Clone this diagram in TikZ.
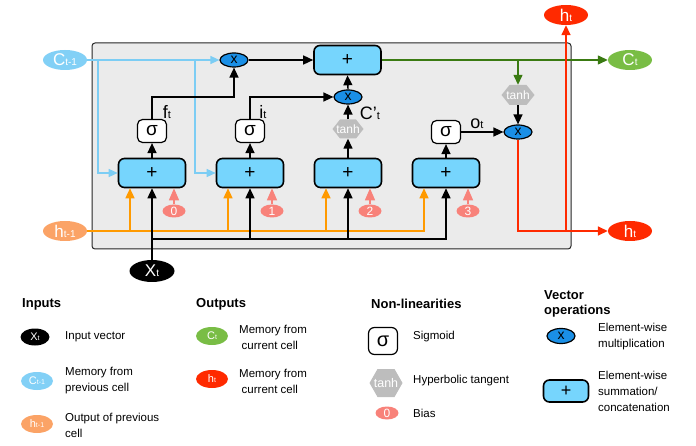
\documentclass[tikz,border=0pt]{standalone}
\usepackage{fontspec}
\setmainfont{Liberation Sans}
\usetikzlibrary{arrows.meta,shapes.geometric}
\definecolor{cprevcol}{HTML}{82D0F6}
\definecolor{plusfill}{HTML}{76D5FD}
\definecolor{multfill}{HTML}{1A8FE6}
\definecolor{ctcol}{HTML}{79BD45}
\definecolor{gline}{HTML}{3A7A12}
\definecolor{htcol}{HTML}{FF2A00}
\definecolor{hprevcol}{HTML}{FBA366}
\definecolor{oline}{HTML}{FF9A00}
\definecolor{biascol}{HTML}{F8827A}
\definecolor{tanhgray}{HTML}{BDBDBD}
\definecolor{cellgray}{HTML}{EBEBEB}
\definecolor{bline}{HTML}{7CCDF4}
\newcommand{\lb}[4]{{\fontsize{#1}{#1}\selectfont #2}{\fontsize{#3}{#3}\selectfont #4}}
% name, x, y, half width, half height, pointer depth, font size, text
\newcommand{\hexnode}[8]{%
  \fill[tanhgray] (#2-#4,#3) -- (#2-#4+#6,#3-#5) -- (#2+#4-#6,#3-#5) -- (#2+#4,#3) -- (#2+#4-#6,#3+#5) -- (#2-#4+#6,#3+#5) -- cycle;
  \node[inner sep=0pt, text=white, minimum width=2*#4, minimum height=2*#5, font=\fontsize{#7}{#7}\selectfont] (#1) at (#2,#3) {#8};}
\tikzset{
  mainell/.style={ellipse, inner sep=0pt, text=white, minimum width=44pt, minimum height=20pt},
  legell/.style={ellipse, inner sep=0pt, text=white, minimum width=32pt, minimum height=18pt},
  plusbox/.style={draw=black, line width=1.6pt, fill=plusfill, rounded corners=6pt, minimum width=67pt, minimum height=29pt, inner sep=0pt, font=\fontsize{19}{19}\selectfont},
  mult/.style={ellipse, draw=black, line width=1.2pt, fill=multfill, minimum width=28pt, minimum height=14pt, inner sep=0pt, font=\fontsize{14}{14}\selectfont},
  sig/.style={draw=black, line width=1.2pt, fill=white, rounded corners=5pt, minimum width=29pt, minimum height=23pt, inner sep=0pt, font=\fontsize{19}{19}\selectfont},
  biasn/.style={ellipse, fill=biascol, text=white, minimum width=23pt, minimum height=13pt, inner sep=0pt, font=\fontsize{12}{12}\selectfont},
  arr/.style={line width=1.4pt, draw=black, -{Triangle[length=10pt,width=9pt]}},
  barr/.style={line width=1.3pt, draw=bline, -{Triangle[length=9pt,width=8pt,fill=bline]}},
  oarr/.style={line width=1.4pt, draw=oline, -{Triangle[length=10pt,width=9pt,fill=oline]}},
  garr/.style={line width=1.3pt, draw=gline, -{Triangle[length=10pt,width=9pt,fill=gline]}},
  rarr/.style={line width=1.5pt, draw=htcol, -{Triangle[length=10pt,width=9pt,fill=htcol]}},
  biasarr/.style={line width=1.4pt, draw=biascol, -{Triangle[length=12pt,width=10pt,fill=biascol]}},
  lab/.style={inner sep=0pt},
  legtxt/.style={anchor=west, align=left, inner sep=0pt, font=\fontsize{11.5}{16}\selectfont},
  leghead/.style={anchor=west, align=left, inner sep=0pt, font=\bfseries\fontsize{13}{14.5}\selectfont}
}
\begin{document}
\begin{tikzpicture}[x=1pt,y=-1pt]
\useasboundingbox (0,0) rectangle (696,446);
\draw[draw=black!85, line width=1pt, fill=cellgray, rounded corners=3pt] (92,43) rectangle (571,249);
% nodes
\node[mainell, fill=cprevcol] (cprev) at (65,60) {\lb{17}{C}{10}{t-1}};
\node[mult] (fmul) at (234,60) {x};
\node[plusbox] (cadd) at (347.5,60) {+};
\node[mult] (imul) at (348,97) {x};
\hexnode{ctanh}{348}{129}{15.5}{9.5}{7.5}{12}{tanh}
\node[sig] (fsig) at (152,131) {σ};
\node[sig] (isig) at (250,131) {σ};
\node[sig] (osig) at (446,132) {σ};
\node[mult] (omul) at (518,132) {x};
\hexnode{otanh}{518}{95}{16.5}{10}{8}{12}{tanh}
\node[mainell, fill=ctcol] (cnext) at (630,60) {\lb{17}{C}{10}{t}};
\node[mainell, fill=htcol] (htop) at (566,15) {\lb{17}{h}{10}{t}};
\node[mainell, fill=htcol] (hnext) at (630,231) {\lb{17}{h}{10}{t}};
\node[mainell, fill=hprevcol] (hprev) at (65,231) {\lb{17}{h}{10}{t-1}};
\node[mainell, fill=black, minimum width=45pt, minimum height=22pt] (xt) at (152,271) {\lb{17}{X}{10}{t}};
\node[plusbox] (b1) at (152,173) {+};
\node[plusbox] (b2) at (250,173) {+};
\node[plusbox] (b3) at (348,173) {+};
\node[plusbox] (b4) at (446,173) {+};
\node[biasn] (bias1) at (174,211) {0};
\node[biasn] (bias2) at (272,211) {1};
\node[biasn] (bias3) at (370,211) {2};
\node[biasn] (bias4) at (468,211) {3};
\node[lab] (flab) at (167,112) {\lb{18}{f}{11}{t}};
\node[lab] (ilab) at (263,112) {\lb{18}{i}{11}{t}};
\node[lab] (clab) at (370,113) {\lb{18}{C’}{11}{t}};
\node[lab] (olab) at (477,124) {\lb{18}{o}{11}{t}};
% blue C_{t-1}
\coordinate (cb1) at (98,60);
\coordinate (cb2) at (195,60);
\draw[barr] (cprev.east) -- (fmul.west);
\draw[barr] (cb1) |- (b1.west);
\draw[barr] (cb2) |- (b2.west);
% orange h_{t-1}
\coordinate (o1) at ([xshift=-22pt]b1.south);
\coordinate (o2) at ([xshift=-22pt]b2.south);
\coordinate (o3) at ([xshift=-22pt]b3.south);
\coordinate (o4) at ([xshift=-22pt]b4.south);
\draw[oarr] (hprev.east) -| (o4);
\draw[oarr] (o1 |- hprev.east) -- (o1);
\draw[oarr] (o2 |- hprev.east) -- (o2);
\draw[oarr] (o3 |- hprev.east) -- (o3);
% black X_t
\coordinate (xbar) at (152,239);
\draw[arr] (xt.north) -- (b1.south);
\draw[arr] (xbar) -| (b4.south);
\draw[arr] (xbar -| b2.south) -- (b2.south);
\draw[arr] (xbar -| b3.south) -- (b3.south);
% bias
\draw[biasarr] (bias1.north) -- ([xshift=22pt]b1.south);
\draw[biasarr] (bias2.north) -- ([xshift=22pt]b2.south);
\draw[biasarr] (bias3.north) -- ([xshift=22pt]b3.south);
\draw[biasarr] (bias4.north) -- ([xshift=22pt]b4.south);
% gates
\draw[arr] (b1.north) -- (fsig.south);
\draw[arr] (b2.north) -- (isig.south);
\draw[arr] (b3.north) -- (ctanh.south);
\draw[arr] (b4.north) -- (osig.south);
\coordinate (fj) at (234,97);
\draw[arr] (fsig.north) |- (fj) -- (fmul.south);
\draw[arr] (isig.north) |- (imul.west);
\draw[arr] (ctanh.north) -- (imul.south);
\draw[arr] (imul.north) -- (cadd.south);
\draw[arr] (fmul.east) -- (cadd.west);
\draw[arr] (osig.east) -- (omul.west);
\draw[arr] (otanh.south) -- (omul.north);
% green C_t
\draw[garr] (cadd.east) -- (cnext.west);
\draw[garr] (cadd.east -| otanh.north) -- (otanh.north);
% red h_t
\draw[rarr] (omul.south) |- (hnext.west);
\draw[rarr] (htop.south |- hnext.west) -- (htop.south);
% legend
\node[leghead] (hin) at (22,304) {Inputs};
\node[legell, fill=black, minimum width=29pt, minimum height=17pt] (lx) at (35,337) {\lb{11}{X}{7}{t}};
\node[legtxt] (lxt) at (65,337) {Input vector};
\node[legell, fill=cprevcol] (lc) at (37,381) {\lb{11}{C}{7}{t-1}};
\node[legtxt] (lct) at (65,381) {Memory from\\previous cell};
\node[legell, fill=hprevcol] (lh) at (37,424) {\lb{11}{h}{7}{t-1}};
\node[legtxt] (lht) at (65,425) {Output of previous\\cell};
\node[leghead] (hout) at (196,304) {Outputs};
\node[legell, fill=ctcol] (lco) at (212,336) {\lb{11}{C}{7}{t}};
\node[legtxt] (lcot) at (239,337) {Memory from\\\hspace{2.5pt}current cell};
\node[legell, fill=htcol] (lho) at (212,379) {\lb{11}{h}{7}{t}};
\node[legtxt] (lhot) at (239,381) {Memory from\\\hspace{2.5pt}current cell};
\node[leghead] (hnl) at (371,304) {Non-linearities};
\node[sig, minimum width=29pt, minimum height=27pt, rounded corners=6pt, font=\fontsize{20}{20}\selectfont] (lsig) at (383,341) {σ};
\node[legtxt] (lsigt) at (413,337) {Sigmoid};
\hexnode{ltanh}{386}{383}{16.5}{14}{8}{12.5}{tanh}
\node[legtxt] (ltanht) at (413,381) {Hyperbolic tangent};
\node[biasn, minimum height=13pt, font=\fontsize{12}{12}\selectfont] (lbias) at (387,413) {0};
\node[legtxt] (lbiast) at (413,413) {Bias};
\node[leghead] (hvo) at (544,304) {Vector\\operations};
\node[mult, minimum height=15pt] (lmul) at (561,336) {x};
\node[legtxt] (lmult) at (598,337) {Element-wise\\multiplication};
\node[plusbox, minimum width=45pt, minimum height=22pt, font=\fontsize{18}{18}\selectfont] (lplus) at (566,391) {+};
\node[legtxt] (lplust) at (598,391) {Element-wise\\summation/\\concatenation};
\end{tikzpicture}
\end{document}
